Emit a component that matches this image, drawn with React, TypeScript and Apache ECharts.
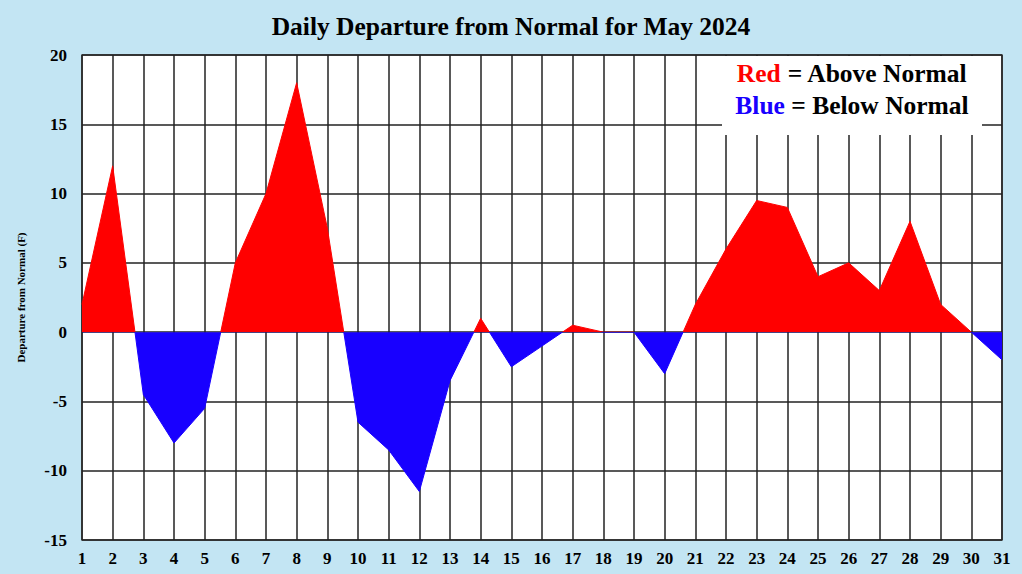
import React, { useEffect, useRef } from "react";
import * as echarts from "echarts";

const days = Array.from({ length: 31 }, (_, i) => String(i + 1));
const departures = [
  2, 12, -4.5, -8, -5.5, 5, 10, 18, 7.5, -6.5,
  -8.5, -11.5, -3.5, 1, -2.5, -1, 0.5, 0, 0, -3,
  2, 6, 9.5, 9, 4, 5, 3, 8, 2, 0, -2,
];
const titleText = "Daily Departure from Normal for May 2024";
const yAxisName = "Departure from Normal (F)";

const FONT = "'Liberation Serif', 'Times New Roman', serif";

export default function App() {
  const ref = useRef<HTMLDivElement>(null);
  useEffect(() => {
    if (!ref.current) return;
    const chart = echarts.init(ref.current, undefined, { renderer: "svg" });
    chart.setOption({
      animation: false,
      backgroundColor: "#c3e5f3",
      title: [
        {
          text: titleText,
          left: "center",
          top: 8,
          textStyle: { fontFamily: FONT, fontWeight: "bold", fontSize: 25.5, color: "#000" },
        },
        {
          text: "{r|Red} = Above Normal\n{b|Blue} = Below Normal",
          left: 852,
          top: 57,
          textAlign: "center",
          padding: 0,
          z: 20,
          textStyle: {
            fontFamily: FONT,
            fontWeight: "bold",
            fontSize: 25.5,
            color: "#000",
            lineHeight: 32,
            rich: {
              r: { color: "#ff0000", fontFamily: FONT, fontWeight: "bold", fontSize: 25.5, lineHeight: 32 },
              b: { color: "#1800ff", fontFamily: FONT, fontWeight: "bold", fontSize: 25.5, lineHeight: 32 },
            },
          },
        },
      ],
      graphic: [
        {
          type: "rect",
          shape: { x: 722, y: 56, width: 260, height: 79 },
          style: { fill: "#ffffff" },
          z: 5,
        },
      ],
      grid: {
        left: 82,
        right: 20,
        top: 55,
        bottom: 34,
        show: true,
        backgroundColor: "#ffffff",
        borderColor: "#444",
        borderWidth: 1.5,
      },
      xAxis: {
        type: "category",
        data: days,
        boundaryGap: false,
        axisLine: { show: false },
        axisTick: { show: false },
        axisLabel: {
          interval: 0,
          margin: 10,
          fontFamily: FONT,
          fontWeight: "bold",
          fontSize: 17,
          color: "#000",
        },
        splitLine: { show: true, interval: 0, lineStyle: { color: "#222", width: 1.5 } },
      },
      yAxis: {
        type: "value",
        min: -15,
        max: 20,
        interval: 5,
        name: yAxisName,
        nameLocation: "middle",
        nameGap: 56,
        nameTextStyle: { fontFamily: FONT, fontWeight: "bold", fontSize: 11, color: "#000" },
        axisLine: { show: false },
        axisTick: { show: false },
        axisLabel: {
          margin: 15,
          fontFamily: FONT,
          fontWeight: "bold",
          fontSize: 17,
          color: "#000",
        },
        splitLine: { show: true, lineStyle: { color: "#222", width: 1.5 } },
      },
      visualMap: {
        type: "piecewise",
        show: false,
        seriesIndex: 0,
        dimension: 1,
        pieces: [
          { gt: 0, lte: 100, color: "#ff0000" },
          { gte: -100, lte: 0, color: "#1800ff" },
        ],
      },
      series: [
        {
          type: "line",
          data: departures,
          symbol: "none",
          lineStyle: { width: 1 },
          areaStyle: { opacity: 1 },
          z: 3,
        },
      ],
    });
    return () => chart.dispose();
  }, []);
  return (
    <div
      ref={ref}
      style={{ position: "fixed", left: 0, top: 0, width: 1022, height: 574 }}
    />
  );
}
